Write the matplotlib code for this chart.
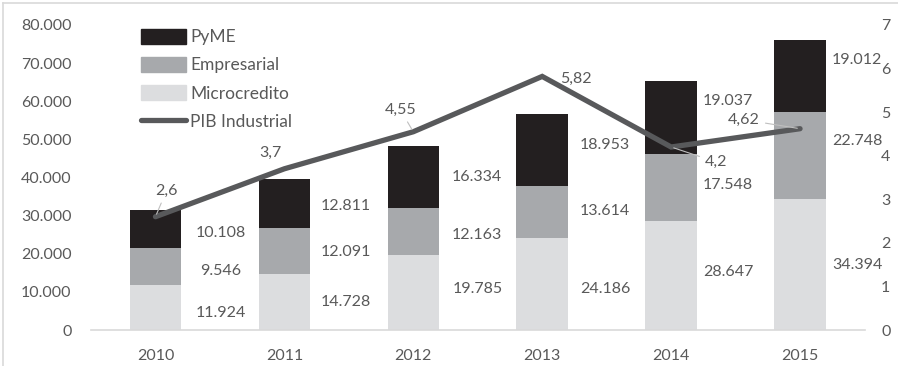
import matplotlib
matplotlib.use("Agg")
import matplotlib.pyplot as plt
from matplotlib.lines import Line2D
from matplotlib.patches import Patch

plt.rcParams['font.family'] = ['Lato', 'DejaVu Sans']

years = ['2010', '2011', '2012', '2013', '2014', '2015']
microcredito = [11924, 14728, 19785, 24186, 28647, 34394]
empresarial = [9546, 12091, 12163, 13614, 17548, 22748]
pyme = [10108, 12811, 16334, 18953, 19037, 19012]
pib_industrial = [2.6, 3.7, 4.55, 5.82, 4.2, 4.62]

left_ticks = [0, 10000, 20000, 30000, 40000, 50000, 60000, 70000, 80000]
right_ticks = [0, 1, 2, 3, 4, 5, 6, 7]

C_PYME = '#231f20'
C_EMP = '#a7a9ac'
C_MICRO = '#dcdddf'
C_LINE = '#58595b'
C_TEXT = '#595959'

def fmt_thousands(v):
    return f"{v:,.0f}".replace(",", ".")

def fmt_decimal(v):
    return f"{v:g}".replace(".", ",")

W, H = 898, 366
fig = plt.figure(figsize=(W / 100, H / 100), dpi=100)
ax = fig.add_axes([91 / W, 36 / H, (864.5 - 91) / W, (330 - 25) / H])
ax2 = ax.twinx()

x = list(range(len(years)))
bw = 0.4
bottom2 = [m + e for m, e in zip(microcredito, empresarial)]
ax.bar(x, microcredito, bw, color=C_MICRO, zorder=2)
ax.bar(x, empresarial, bw, bottom=microcredito, color=C_EMP, zorder=2)
ax.bar(x, pyme, bw, bottom=bottom2, color=C_PYME, zorder=2)

ax.set_xlim(-0.5, 5.5)
ax.set_ylim(0, 80000)
ax.set_yticks(left_ticks)
ax.set_yticklabels([fmt_thousands(t) for t in left_ticks])
ax.set_xticks(x)
ax.set_xticklabels(years)
ax.tick_params(axis='both', length=0, labelsize=11.5, colors=C_TEXT)
ax.tick_params(axis='y', pad=14)
ax.tick_params(axis='x', pad=14)
for s in ['top', 'right', 'left']:
    ax.spines[s].set_visible(False)
ax.spines['bottom'].set_color('#d9d9d9')
ax.spines['bottom'].set_linewidth(1.2)

# bar segment value labels, placed to the right of each bar
seg_nudge_micro = [-6, 0, 3, -5, 3, -1]
seg_nudge_emp = [-5, -1, -4, 1, 2, 15]
seg_nudge_pyme = [-4, -3, 0, 5, 17, 16]
label_dx = [65, 61, 64, 63, 57, 57]

for i in x:
    segs = [
        (microcredito[i], 0, seg_nudge_micro[i]),
        (empresarial[i], microcredito[i], seg_nudge_emp[i]),
        (pyme[i], bottom2[i], seg_nudge_pyme[i]),
    ]
    for val, base, dy in segs:
        ax.annotate(fmt_thousands(val), xy=(i, base + val / 2),
                    xytext=(label_dx[i] * 0.72, dy * 0.72), textcoords='offset points',
                    ha='center', va='center', fontsize=11.5, color=C_TEXT, zorder=5)

ax2.plot(x, pib_industrial, color=C_LINE, lw=3.8, solid_capstyle='round',
         solid_joinstyle='miter', zorder=4)
ax2.set_ylim(0, 7)
ax2.set_yticks(right_ticks)
ax2.tick_params(axis='y', length=0, labelsize=11.5, colors=C_TEXT, pad=12)
for s in ['top', 'right', 'left', 'bottom']:
    ax2.spines[s].set_visible(False)

# line value labels (pixel offsets), some with leader lines
line_lbl_off = [(11, 26), (-14, 16), (-13, 22), (34, -2), (45, -15), (-56, 9)]
leader = [True, False, True, False, True, True]
for i in x:
    dx, dy = line_lbl_off[i]
    props = dict(arrowstyle='-', color='#bfbfbf', lw=0.8, shrinkA=2, shrinkB=2) if leader[i] else None
    ax2.annotate(fmt_decimal(pib_industrial[i]), xy=(i, pib_industrial[i]),
                 xytext=(dx * 0.72, dy * 0.72), textcoords='offset points',
                 ha='center', va='center', fontsize=11.5, color=C_TEXT,
                 arrowprops=props, zorder=6)

handles = [Patch(color=C_PYME), Patch(color=C_EMP), Patch(color=C_MICRO),
           Line2D([0], [0], color=C_LINE, lw=3.8, solid_capstyle='round')]
leg = ax.legend(handles, ['PyME', 'Empresarial', 'Microcredito', 'PIB Industrial'],
                loc='upper left', bbox_to_anchor=(141 / W, 1 - 29 / H), bbox_transform=fig.transFigure,
                frameon=False, fontsize=12.5, handlelength=2.6, handleheight=0.92,
                labelspacing=0.68, handletextpad=0.25, borderaxespad=0, borderpad=0)
for t in leg.get_texts():
    t.set_color(C_TEXT)

# chart border
fig.add_artist(Line2D([3 / W, 1], [1 - 3 / H, 1 - 3 / H], transform=fig.transFigure,
                      color='#d9d9d9', lw=1.2))
fig.add_artist(Line2D([3 / W, 3 / W], [0, 1 - 3 / H], transform=fig.transFigure,
                      color='#d9d9d9', lw=1.2))

fig.savefig('out.png', dpi=100)
